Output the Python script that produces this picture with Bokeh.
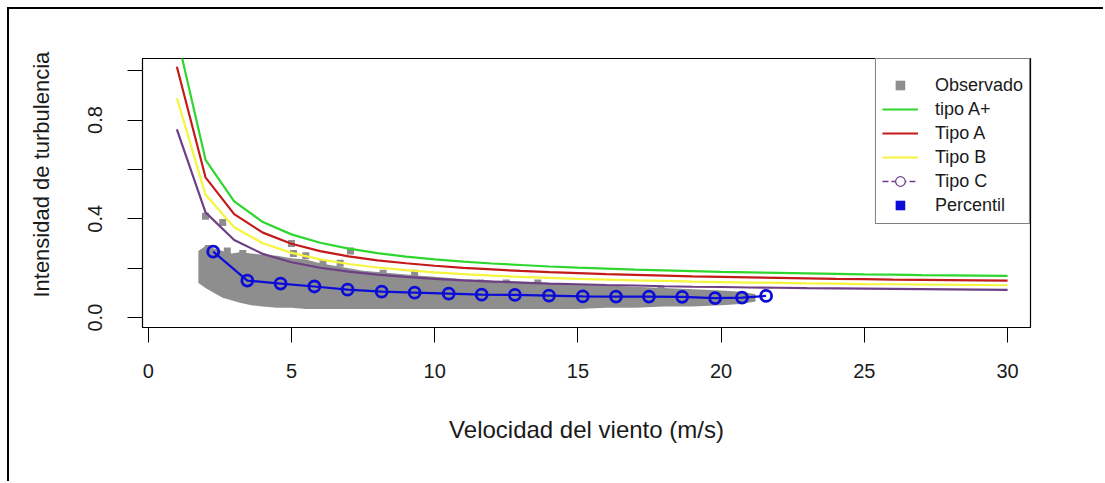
from bokeh.plotting import figure
from bokeh.models import (ColumnDataSource, Legend, LegendItem, FixedTicker, Range1d)
from bokeh.embed import file_html
from bokeh.resources import INLINE

# ---- data ----
speed = list(range(1, 31))
tipo_a_plus = [1.143, 0.639, 0.471, 0.387, 0.337, 0.303, 0.279, 0.261, 0.247, 0.236,
               0.227, 0.219, 0.213, 0.207, 0.202, 0.198, 0.194, 0.191, 0.188, 0.185,
               0.183, 0.181, 0.179, 0.177, 0.175, 0.174, 0.172, 0.171, 0.170, 0.169]
tipo_a = [1.016, 0.568, 0.419, 0.344, 0.299, 0.269, 0.248, 0.232, 0.220, 0.210,
          0.201, 0.195, 0.189, 0.184, 0.180, 0.176, 0.173, 0.170, 0.167, 0.165,
          0.163, 0.161, 0.159, 0.157, 0.156, 0.154, 0.153, 0.152, 0.151, 0.150]
tipo_b = [0.889, 0.497, 0.366, 0.301, 0.262, 0.236, 0.217, 0.203, 0.192, 0.183,
          0.176, 0.170, 0.165, 0.161, 0.157, 0.154, 0.151, 0.149, 0.146, 0.144,
          0.142, 0.141, 0.139, 0.138, 0.136, 0.135, 0.134, 0.133, 0.132, 0.131]
tipo_c = [0.762, 0.426, 0.314, 0.258, 0.224, 0.202, 0.186, 0.174, 0.165, 0.157,
          0.151, 0.146, 0.142, 0.138, 0.135, 0.132, 0.130, 0.127, 0.125, 0.124,
          0.122, 0.121, 0.119, 0.118, 0.117, 0.116, 0.115, 0.114, 0.113, 0.112]

pct_speed = [2.27, 3.46, 4.62, 5.80, 6.96, 8.15, 9.30, 10.49, 11.64, 12.80,
             13.99, 15.17, 16.33, 17.48, 18.64, 19.79, 20.73, 21.57]
pct_ti = [0.267, 0.150, 0.138, 0.126, 0.113, 0.105, 0.101, 0.097, 0.093, 0.092,
          0.089, 0.086, 0.085, 0.085, 0.084, 0.079, 0.081, 0.088]

# observed cloud: envelope of the dense scatter, plus isolated points
cloud_speed = [1.75, 2.0, 2.3, 2.6, 2.9, 3.2, 3.6, 4.0, 4.5, 5.0, 5.5, 6.0, 6.5, 7.0,
               7.5, 8.0, 8.5, 9.0, 9.5, 10.0, 11.0, 12.0, 13.0, 14.0, 15.0, 16.0,
               17.0, 18.0, 19.0, 20.0, 20.7, 21.2]
cloud_low = [0.14, 0.12, 0.10, 0.08, 0.07, 0.06, 0.05, 0.045, 0.04, 0.04, 0.035, 0.035,
             0.035, 0.035, 0.035, 0.035, 0.035, 0.035, 0.035, 0.035, 0.035, 0.035,
             0.035, 0.035, 0.035, 0.04, 0.04, 0.045, 0.045, 0.05, 0.055, 0.065]
cloud_high = [0.27, 0.29, 0.28, 0.27, 0.26, 0.265, 0.26, 0.255, 0.25, 0.24, 0.235, 0.22,
              0.21, 0.20, 0.19, 0.185, 0.18, 0.175, 0.17, 0.165, 0.155, 0.15, 0.145,
              0.14, 0.135, 0.13, 0.125, 0.12, 0.115, 0.11, 0.105, 0.095]
out_speed = [2.0, 2.6, 2.1, 2.76, 3.3, 5.07, 5.5, 6.1, 6.7, 7.06, 8.2, 9.3,
             11.6, 12.5, 13.6, 15.8, 17.9, 5.0]
out_ti = [0.41, 0.385, 0.28, 0.27, 0.26, 0.26, 0.25, 0.22, 0.22, 0.27, 0.18, 0.18,
          0.14, 0.14, 0.14, 0.12, 0.11, 0.30]

x_ticks = [0, 5, 10, 15, 20, 25, 30]
y_ticks = [0.0, 0.2, 0.4, 0.6, 0.8, 1.0]
y_tick_labels = ["0.0", "", "0.4", "", "0.8", ""]

FONT = "Liberation Sans"
TEXT = "#1a1a1a"
GRAY = "#8e8e8e"
PURPLE = "#6f3f86"
BLUE = "#0c0cd8"
NAN = float("nan")

p = figure(frame_width=888, frame_height=269,
           min_border_left=133, min_border_right=73, min_border_top=49,
           min_border_bottom=154,
           x_range=Range1d(-0.2, 30.8), y_range=Range1d(-0.04, 1.049),
           output_backend="svg", toolbar_location=None, tools="",
           styles={"border-top": "2px solid black", "border-left": "2px solid black",
                   "margin-top": "7px", "margin-left": "7px"})

p.xgrid.visible = False
p.ygrid.visible = False
p.outline_line_color = "black"
p.outline_line_width = 1.2
p.background_fill_color = "white"
p.border_fill_color = "white"

# observed
p.varea(x=cloud_speed, y1=cloud_low, y2=cloud_high, fill_color=GRAY)
r_obs = p.scatter(x=out_speed, y=out_ti, marker="square", size=7, fill_color=GRAY,
                  line_color=None)

# IEC classes
r_ap = p.line(speed, tipo_a_plus, line_color="#2ed62e", line_width=2.2)
r_a = p.line(speed, tipo_a, line_color="#c41a1a", line_width=2.2)
r_b = p.line(speed, tipo_b, line_color="#f5f53c", line_width=2.2)
r_c = p.line(speed, tipo_c, line_color=PURPLE, line_width=2.2)

# percentile
p.line(pct_speed, pct_ti, line_color=BLUE, line_width=2.2)
p.scatter(pct_speed, pct_ti, marker="circle", size=11, fill_color=None,
          line_color=BLUE, line_width=2.8)

# legend-only glyphs (no visible data)
dummy = ColumnDataSource(data=dict(x=[NAN], y=[NAN]))
lg_c_line = p.line("x", "y", source=dummy, line_color=PURPLE, line_width=1.5,
                   line_dash="6 3")
lg_c_pt = p.scatter("x", "y", source=dummy, marker="circle", size=7,
                    fill_color="white", line_color=PURPLE, line_width=1.2)
lg_pct = p.scatter("x", "y", source=dummy, marker="square", size=9,
                   fill_color=BLUE, line_color=None)

legend = Legend(items=[
    LegendItem(label="Observado", renderers=[r_obs]),
    LegendItem(label="tipo A+", renderers=[r_ap]),
    LegendItem(label="Tipo A", renderers=[r_a]),
    LegendItem(label="Tipo B", renderers=[r_b]),
    LegendItem(label="Tipo C", renderers=[lg_c_line, lg_c_pt]),
    LegendItem(label="Percentil", renderers=[lg_pct]),
], location="top_right")
legend.title = " "
legend.title_text_font_size = "6px"
legend.title_standoff = 2
legend.margin = 0
legend.padding = 6
legend.spacing = 0
legend.glyph_width = 36
legend.glyph_height = 24
legend.label_height = 24
legend.label_standoff = 17
legend.label_text_font = FONT
legend.label_text_font_size = "18px"
legend.label_text_color = TEXT
legend.border_line_color = "black"
legend.border_line_width = 1.2
legend.background_fill_color = "white"
legend.background_fill_alpha = 1
p.add_layout(legend)

# axes
xa = p.xaxis[0]
xa.ticker = FixedTicker(ticks=x_ticks)
xa.minor_tick_line_color = None
xa.major_tick_out = 15
xa.major_tick_in = 0
xa.major_label_standoff = 21
xa.major_label_text_font = FONT
xa.major_label_text_font_size = "20px"
xa.major_label_text_color = TEXT
xa.axis_label = "Velocidad del viento (m/s)"
xa.axis_label_text_font = FONT
xa.axis_label_text_font_size = "24px"
xa.axis_label_text_font_style = "normal"
xa.axis_label_text_color = TEXT
xa.axis_label_standoff = 35
xa.axis_line_color = "black"

ya = p.yaxis[0]
ya.ticker = FixedTicker(ticks=y_ticks)
ya.major_label_overrides = {t: s for t, s in zip(y_ticks, y_tick_labels)}
ya.minor_tick_line_color = None
ya.major_tick_out = 15
ya.major_tick_in = 0
ya.major_label_orientation = "vertical"
ya.major_label_standoff = 25
ya.major_label_text_font = FONT
ya.major_label_text_font_size = "20px"
ya.major_label_text_color = TEXT
# leading no-break spaces lift the centred label a little, as in the original
ya.axis_label = "\u00a0" * 6 + "Intensidad de turbulencia"
ya.axis_label_text_font = FONT
ya.axis_label_text_font_size = "22px"
ya.axis_label_text_font_style = "normal"
ya.axis_label_text_color = TEXT
ya.axis_label_standoff = 32
ya.axis_line_color = "black"

open("out.html", "w").write(file_html(p, INLINE))
